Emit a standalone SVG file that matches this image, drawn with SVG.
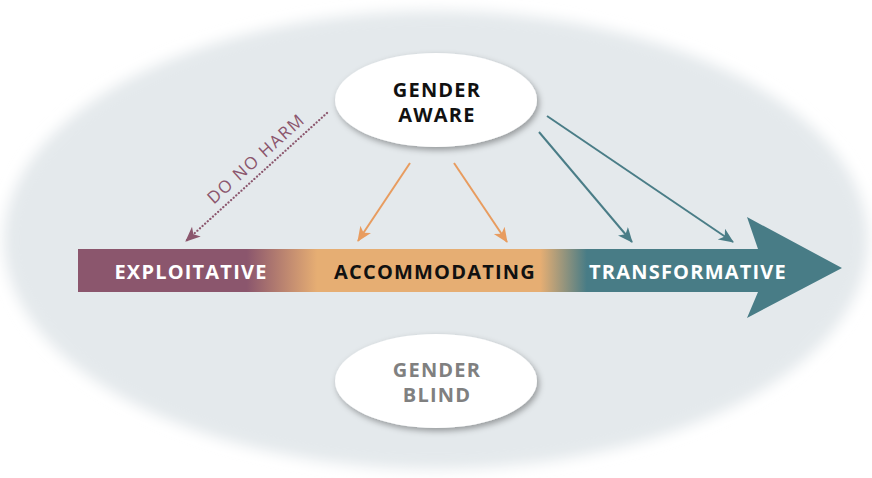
<svg xmlns="http://www.w3.org/2000/svg" width="872" height="478" viewBox="0 0 872 478">
  <defs>
    <filter id="soft" x="-10%" y="-10%" width="120%" height="120%">
      <feGaussianBlur stdDeviation="7"/>
    </filter>
    <filter id="shadow" x="-20%" y="-30%" width="140%" height="160%">
      <feDropShadow dx="2" dy="3" stdDeviation="3" flood-color="#000" flood-opacity="0.35"/>
    </filter>
    <linearGradient id="barGrad" gradientUnits="userSpaceOnUse" x1="78" y1="0" x2="842" y2="0">
      <stop offset="0" stop-color="#8b566d"/>
      <stop offset="0.221" stop-color="#8b566d"/>
      <stop offset="0.313" stop-color="#e6ae73"/>
      <stop offset="0.605" stop-color="#e6ae73"/>
      <stop offset="0.666" stop-color="#487c86"/>
      <stop offset="1" stop-color="#487c86"/>
    </linearGradient>
    <marker id="arrOrange" markerUnits="userSpaceOnUse" markerWidth="16" markerHeight="14" refX="14" refY="6.5" orient="auto">
      <path d="M0,0 L15,6.5 L0,13 L4,6.5 Z" fill="#e89c5f"/>
    </marker>
    <marker id="arrTeal" markerUnits="userSpaceOnUse" markerWidth="16" markerHeight="14" refX="14" refY="6.5" orient="auto">
      <path d="M0,0 L15,6.5 L0,13 L4,6.5 Z" fill="#4a7d87"/>
    </marker>
    <marker id="arrPurple" markerUnits="userSpaceOnUse" markerWidth="16" markerHeight="14" refX="14" refY="6.5" orient="auto">
      <path d="M0,0 L15,6.5 L0,13 L4,6.5 Z" fill="#8b566d"/>
    </marker>
    <style>
      .lbl { font-family: "Open Sans", "Liberation Sans", sans-serif; font-weight: 700; font-size: 20px; letter-spacing: 1.2px; text-anchor: middle; }
      .node { fill: #ffffff; filter: url(#shadow); }
      .orange { stroke: #e89c5f; stroke-width: 2; fill: none; marker-end: url(#arrOrange); }
      .teal { stroke: #4a7d87; stroke-width: 2; fill: none; marker-end: url(#arrTeal); }
      .dotted { stroke: #8b566d; stroke-width: 2.2; fill: none; stroke-dasharray: 0.1 3.4; stroke-linecap: round; marker-end: url(#arrPurple); }
    </style>
  </defs>

  <rect width="872" height="478" fill="#ffffff"/>
  <ellipse cx="436" cy="240" rx="432" ry="229" fill="#e4e9ec" filter="url(#soft)"/>

  <g id="bar">
    <path d="M78,249 L758,249 L747,217 L842,268 L747,318 L758,292 L78,292 Z" fill="url(#barGrad)"/>
    <text class="lbl" x="191" y="279" fill="#ffffff">EXPLOITATIVE</text>
    <text class="lbl" x="435" y="279" fill="#111111">ACCOMMODATING</text>
    <text class="lbl" x="688" y="279" fill="#ffffff">TRANSFORMATIVE</text>
  </g>

  <g id="connectors">
    <line class="dotted" x1="327" y1="113" x2="186" y2="241"/>
    <text x="0" y="0" transform="translate(260,163) rotate(-42)" font-family="'Open Sans', 'Liberation Sans', sans-serif" font-size="17" letter-spacing="1.5" fill="#8b566d" text-anchor="middle">DO NO HARM</text>
    <line class="orange" x1="410" y1="163" x2="358" y2="241"/>
    <line class="orange" x1="454" y1="163" x2="507" y2="242"/>
    <line class="teal" x1="539" y1="132" x2="632" y2="242"/>
    <line class="teal" x1="547" y1="116" x2="733" y2="242"/>
  </g>

  <g id="gender-aware">
    <ellipse class="node" cx="436" cy="100" rx="101" ry="47"/>
    <text class="lbl" x="437" y="97" fill="#111111">GENDER</text>
    <text class="lbl" x="437" y="122" fill="#111111">AWARE</text>
  </g>

  <g id="gender-blind">
    <ellipse class="node" cx="436" cy="381" rx="101" ry="47"/>
    <text class="lbl" x="437" y="377" fill="#808080">GENDER</text>
    <text class="lbl" x="437" y="402" fill="#808080">BLIND</text>
  </g>
</svg>
